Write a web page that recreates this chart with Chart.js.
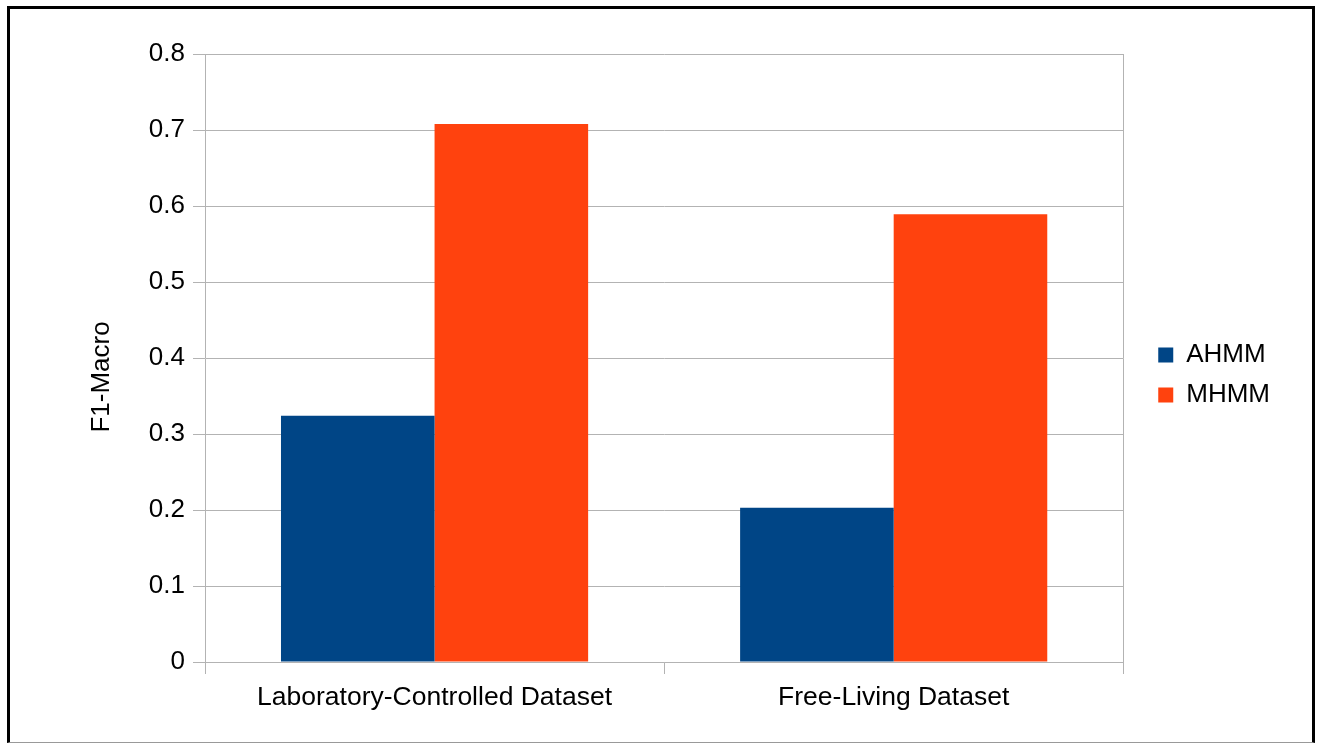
<!DOCTYPE html>
<html>
<head>
<meta charset="utf-8">
<script src="https://cdn.jsdelivr.net/npm/chart.js@4.4.0/dist/chart.umd.min.js"></script>
<style>
  html, body { margin: 0; padding: 0; background: #fff; }
  #wrap { position: relative; width: 1321px; height: 743px; }
  #frame { position: absolute; left: 7px; top: 6px; width: 1302px; height: 733px;
           border-left: 3px solid #000; border-top: 3px solid #000; border-right: 3px solid #000;
           border-bottom: 1px solid #999; pointer-events: none; }
  canvas { position: absolute; left: 0; top: 0; }
</style>
</head>
<body>
<div id="wrap">
  <canvas id="c" width="1321" height="743"></canvas>
  <div id="frame"></div>
</div>
<script>
const categories = ["Laboratory-Controlled Dataset", "Free-Living Dataset"];
const seriesNames = ["AHMM", "MHMM"];
const ahmmValues = [0.324, 0.203];
const mhmmValues = [0.708, 0.589];
const yTicks = [0, 0.1, 0.2, 0.3, 0.4, 0.5, 0.6, 0.7, 0.8];
const yTitle = "F1-Macro";

const FONT = "'Liberation Sans', Arial, sans-serif";
const GRID = "#b3b3b3";

// Y axis title, drawn rotated beside the y scale (slightly below the plot centre, as in the reference)
const yTitlePlugin = {
  id: 'yTitle',
  afterDraw(chart) {
    const { ctx, chartArea } = chart;
    const ys = chart.scales.y;
    ctx.save();
    ctx.font = "26px " + FONT;
    ctx.fillStyle = '#000';
    ctx.textAlign = 'center';
    ctx.textBaseline = 'middle';
    ctx.translate(ys.left + 18, (chartArea.top + chartArea.bottom) / 2 + 19);
    ctx.rotate(-Math.PI / 2);
    ctx.fillText(yTitle, 0, 0);
    ctx.restore();
  }
};

new Chart(document.getElementById('c'), {
  type: 'bar',
  data: {
    labels: categories,
    datasets: [
      { label: seriesNames[0], data: ahmmValues, backgroundColor: '#004586', borderWidth: 0,
        categoryPercentage: 0.669, barPercentage: 1.0 },
      { label: seriesNames[1], data: mhmmValues, backgroundColor: '#ff420e', borderWidth: 0,
        categoryPercentage: 0.669, barPercentage: 1.0 }
    ]
  },
  options: {
    responsive: false,
    animation: false,
    devicePixelRatio: 1,
    layout: { padding: { left: 84, top: 54, right: 41, bottom: 0 } },
    plugins: {
      legend: {
        position: 'right',
        fullSize: false,
        title: { display: true, text: ' ', font: { size: 1 }, padding: { top: 33, bottom: 0 } },
        labels: {
          font: { family: FONT, size: 26 },
          color: '#000',
          boxWidth: 15, boxHeight: 15,
          padding: 14
        }
      },
      tooltip: { enabled: false },
      title: { display: false }
    },
    scales: {
      x: {
        grid: { color: GRID, offset: true, drawOnChartArea: false, tickLength: 12, lineWidth: 1 },
        border: { color: GRID },
        ticks: { font: { family: FONT, size: 26.5 }, color: '#000', padding: 8, maxRotation: 0 },
        afterFit: (s) => { s.height = 81; }
      },
      y: {
        min: 0, max: 0.8,
        afterBuildTicks: (s) => { s.ticks = yTicks.map(v => ({ value: v })); },
        grid: { color: GRID, tickLength: 12, lineWidth: 1 },
        border: { color: GRID },
        ticks: { font: { family: FONT, size: 26 }, color: '#000', padding: 8,
                 callback: (v) => String(v) },
        title: { display: false },
        afterFit: (s) => { s.width = 121; }
      },
      yRight: {
        position: 'right',
        min: 0, max: 0.8,
        grid: { drawOnChartArea: false, drawTicks: false },
        border: { color: GRID },
        ticks: { display: false },
        afterFit: (s) => { s.width = 21; }
      }
    }
  },
  plugins: [yTitlePlugin]
});
</script>
</body>
</html>
